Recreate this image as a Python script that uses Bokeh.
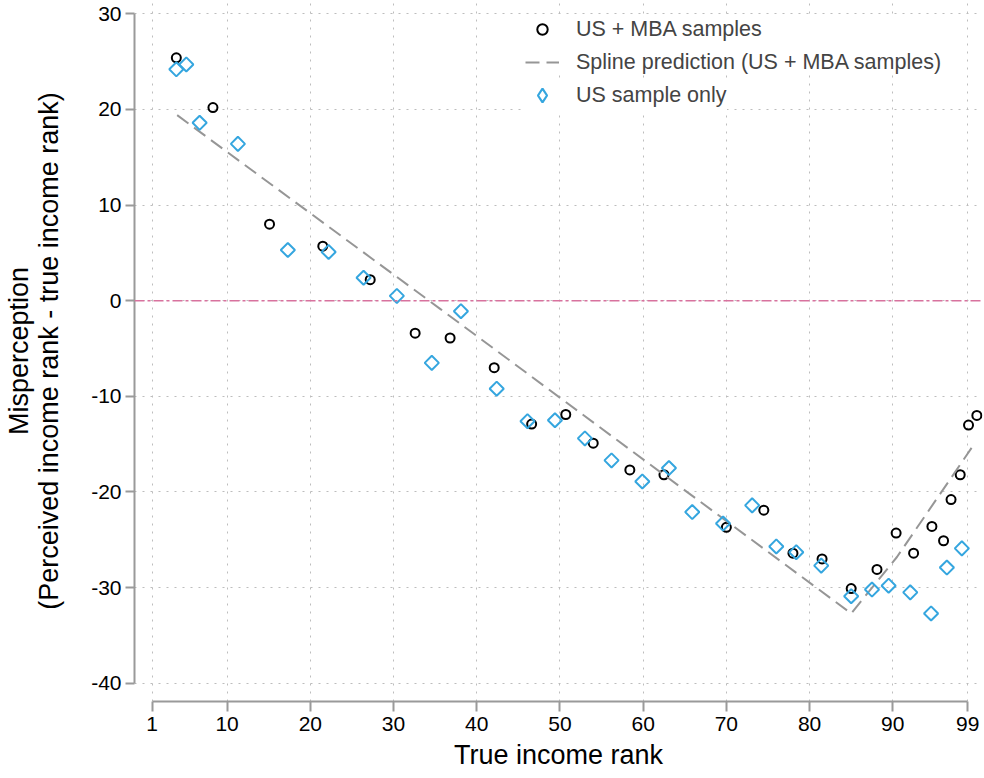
import math
from bokeh.plotting import figure
from bokeh.models import FixedTicker, Range1d, Span, Legend, LegendItem
from bokeh.embed import file_html
from bokeh.resources import INLINE

# ---- data ----
x_ticks = [1, 10, 20, 30, 40, 50, 60, 70, 80, 90, 99]
y_ticks = [-40, -30, -20, -10, 0, 10, 20, 30]
zero_ref = 0

us_mba_x = [3.9, 8.3, 15.1, 21.5, 27.2, 32.6, 36.8, 42.1, 46.6, 50.7, 54.0, 58.4,
            62.5, 70.0, 74.5, 78.0, 81.5, 85.0, 88.1, 90.4, 92.5, 94.7, 96.1, 97.0,
            98.1, 99.1, 100.1]
us_mba_y = [25.4, 20.2, 8.0, 5.7, 2.2, -3.4, -3.9, -7.0, -12.9, -11.9, -14.9, -17.7,
            -18.2, -23.7, -21.9, -26.4, -27.0, -30.1, -28.1, -24.3, -26.4, -23.6, -25.1,
            -20.8, -18.2, -13.0, -12.0]

us_x = [3.9, 5.1, 6.7, 11.3, 17.3, 22.2, 26.4, 30.4, 34.6, 38.1, 42.4, 46.1, 49.4,
        53.0, 56.2, 59.9, 63.1, 65.9, 69.6, 73.1, 76.0, 78.4, 81.4, 85.0, 87.5, 89.5,
        92.1, 94.6, 96.5, 98.3]
us_y = [24.2, 24.7, 18.6, 16.4, 5.3, 5.1, 2.4, 0.5, -6.5, -1.1, -9.2, -12.6, -12.5,
        -14.4, -16.7, -18.9, -17.5, -22.1, -23.3, -21.4, -25.7, -26.3, -27.7, -30.9,
        -30.2, -29.8, -30.5, -32.7, -27.9, -25.9]

spline_x = [4.0, 35.6, 64.5, 85.0, 90.5, 99.7]
spline_y = [19.4, -0.85, -19.5, -32.7, -26.8, -15.1]

FONT = "Liberation Sans"
AXIS_GRAY = "#9a9a9a"
BLUE = "#35a6df"

p = figure(frame_width=848, frame_height=701, output_backend="svg",
           toolbar_location=None,
           x_range=Range1d(-1.127, 100.78), y_range=Range1d(-41.91, 31.39),
           min_border_left=134, min_border_right=2, min_border_top=0,
           min_border_bottom=77)
p.outline_line_color = None
p.background_fill_color = "white"
p.border_fill_color = "white"

# axes
for ax, ticks, bnds in ((p.xaxis, x_ticks, (1, 99)), (p.yaxis, y_ticks, (-40, 30))):
    ax.ticker = FixedTicker(ticks=ticks)
    ax.major_label_overrides = {t: str(t) for t in ticks}
    ax.bounds = bnds
    ax.axis_line_color = AXIS_GRAY
    ax.axis_line_width = 2
    ax.major_tick_line_color = AXIS_GRAY
    ax.major_tick_line_width = 2
    ax.major_tick_in = 0
    ax.minor_tick_in = 0
    ax.minor_tick_out = 0
    ax.major_label_text_font = FONT
    ax.major_label_text_font_size = "21px"
    ax.major_label_text_color = "black"
    ax.axis_label_text_font = FONT
    ax.axis_label_text_font_size = "27px"
    ax.axis_label_text_font_style = "normal"
    ax.axis_label_text_color = "black"

p.xaxis.major_tick_out = 10
p.xaxis.major_label_standoff = 5
p.xaxis.axis_label = "True income rank"
p.xaxis.axis_label_standoff = 6

p.yaxis.major_tick_out = 9
p.yaxis.major_label_standoff = 4
p.yaxis.axis_label = "Misperception\n(Perceived income rank - true income rank)"
p.yaxis.axis_label_standoff = 24
p.yaxis.axis_label_text_line_height = 1.0

# grids
p.xgrid.ticker = FixedTicker(ticks=x_ticks)
p.ygrid.ticker = FixedTicker(ticks=y_ticks)
for g in (p.xgrid, p.ygrid):
    g.grid_line_color = "#bdbdbd"
    g.grid_line_dash = "2 6"
    g.grid_line_width = 1

# zero reference line
p.add_layout(Span(location=zero_ref, dimension="width", line_color="#d8729e",
                  line_dash="10 3 3 3", line_width=1.6))

r_circ = p.scatter(us_mba_x, us_mba_y, marker="circle", size=9, fill_color=None,
                   line_color="black", line_width=2)
r_line = p.line(spline_x, spline_y, line_color="#969696", line_width=2,
                line_dash="14 7")
r_diam = p.scatter(us_x, us_y, marker="square", angle=math.pi / 4, size=10,
                   fill_color=None, line_color=BLUE, line_width=2)
# legend key only (a single undrawable NaN point) so the legend shows a diamond
r_diam_key = p.scatter(x=[float("nan")], y=[float("nan")], marker="diamond",
                       size=10, fill_color=None, line_color=BLUE, line_width=2.2)

common = dict(padding=8, margin=0, glyph_width=34, label_standoff=17,
              label_text_font=FONT, label_text_font_size="21.5px",
              border_line_color=None, background_fill_color="white",
              background_fill_alpha=1.0)

legend_a = Legend(items=[
    LegendItem(label="US + MBA samples", renderers=[r_circ]),
    LegendItem(label="Spline prediction (US + MBA samples)", renderers=[r_line]),
], location=(391, 626), spacing=7, glyph_height=26, label_height=26, **common)

legend_b = Legend(items=[
    LegendItem(label="US sample only", renderers=[r_diam_key]),
], location=(391, 589), spacing=0, glyph_height=34, label_height=34, **common)

p.add_layout(legend_b)
p.add_layout(legend_a)

open("out.html", "w").write(file_html(p, INLINE))
